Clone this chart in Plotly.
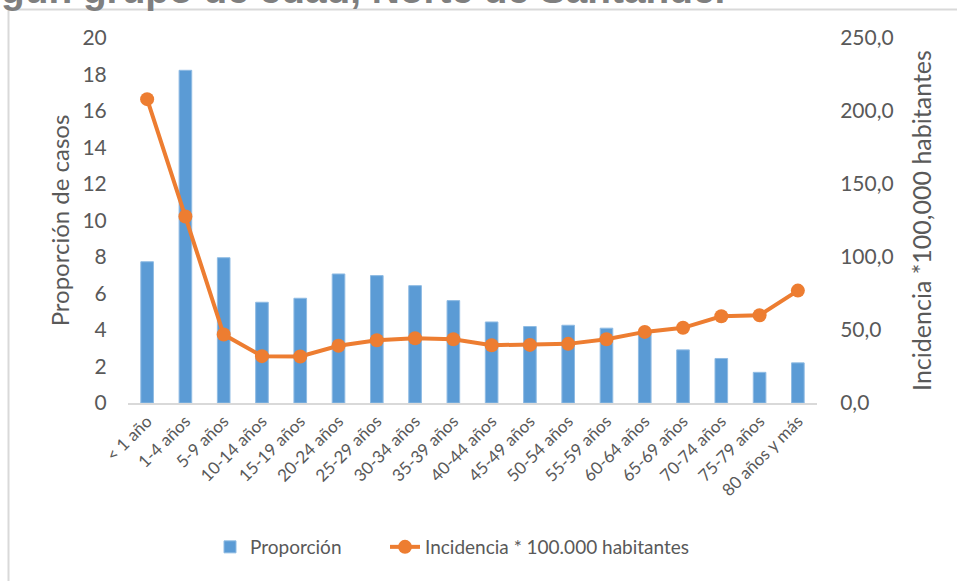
import plotly.graph_objects as go

categorias = ["< 1 año", "1-4 años", "5-9 años", "10-14 años", "15-19 años", "20-24 años",
              "25-29 años", "30-34 años", "35-39 años", "40-44 años", "45-49 años", "50-54 años",
              "55-59 años", "60-64 años", "65-69 años", "70-74 años", "75-79 años", "80 años y más"]
proporcion = [7.74, 18.23, 7.96, 5.52, 5.74, 7.07, 6.98, 6.43, 5.61, 4.44, 4.19, 4.26,
              4.10, 3.90, 2.91, 2.44, 1.68, 2.20]
incidencia = [208.1, 127.7, 46.9, 32.1, 31.9, 39.2, 43.0, 44.4, 43.7, 39.6, 39.8, 40.5,
              43.7, 48.7, 51.5, 59.4, 60.1, 77.0]

titulo_visible = "gún grupo de edad, Norte de Santander"

W, H = 957, 581
L, R, T, B = 128, 817, 38, 403
pw, ph = R - L, B - T

def px(x):
    return (x - L) / pw

def py(y):
    return (B - y) / ph

gray = "#595959"
font_family = "Lato, 'Open Sans', sans-serif"

fig = go.Figure()
fig.add_trace(go.Bar(
    x=categorias, y=proporcion, name="Proporción",
    marker=dict(color="#5b9bd5", line=dict(color="#8fbbe3", width=1)),
    yaxis="y", legend="legend",
))
fig.add_trace(go.Scatter(
    x=categorias, y=incidencia, name="Incidencia * 100.000 habitantes",
    mode="lines+markers",
    line=dict(color="#ed7d31", width=4),
    marker=dict(color="#ed7d31", size=14),
    yaxis="y2", legend="legend2",
))

legend_common = dict(orientation="h", xanchor="left", y=py(547), yanchor="middle",
                     font=dict(size=19, color=gray), bgcolor="rgba(0,0,0,0)")

fig.update_layout(
    width=W, height=H,
    margin=dict(l=L, r=W - R, t=T, b=H - B, pad=0, autoexpand=False),
    paper_bgcolor="white", plot_bgcolor="white",
    separators=",.",
    bargap=0.67,
    font=dict(family=font_family, color=gray),
    showlegend=True,
    legend=dict(x=px(210), **legend_common),
    legend2=dict(x=px(385), **legend_common),
    xaxis=dict(
        range=[-0.5, len(categorias) - 0.5],
        tickangle=-45, tickfont=dict(size=17, color=gray), automargin=False,
        showline=True, linecolor="#d9d9d9", linewidth=1.5,
        ticks="", showgrid=False, zeroline=False,
    ),
    yaxis=dict(
        range=[0, 20], dtick=2, showgrid=False, zeroline=False, showline=False, automargin=False,
        tickfont=dict(size=21, color=gray), ticks="outside", ticklen=16, tickcolor="rgba(0,0,0,0)",
        title=dict(text="Proporción de casos", font=dict(size=24, color=gray), standoff=6),
    ),
    yaxis2=dict(
        range=[0, 250], dtick=50, tickformat=".1f", overlaying="y", side="right", automargin=False,
        showgrid=False, zeroline=False, showline=False,
        tickfont=dict(size=21, color=gray), ticks="outside", ticklen=18, tickcolor="rgba(0,0,0,0)",
        title=dict(text="Incidencia *100,000 habitantes", font=dict(size=25, color=gray), standoff=20),
    ),
    shapes=[
        dict(type="line", xref="paper", yref="paper", x0=px(8), x1=px(W), y0=py(9.5), y1=py(9.5),
             line=dict(color="#d9d9d9", width=2), layer="below"),
        dict(type="line", xref="paper", yref="paper", x0=px(8.5), x1=px(8.5), y0=py(9.5), y1=py(H),
             line=dict(color="#d9d9d9", width=2), layer="below"),
    ],
    annotations=[
        dict(text="<b>" + titulo_visible + "</b>", xref="paper", yref="paper", x=px(-1), y=py(-11),
             xanchor="left", yanchor="middle", showarrow=False,
             font=dict(family="'Liberation Sans', Arial, sans-serif", size=38.8, color="#7f7f7f")),
    ],
)

fig.write_html("out.html", config={"displayModeBar": False},
               post_script="document.body.style.margin='0';")
